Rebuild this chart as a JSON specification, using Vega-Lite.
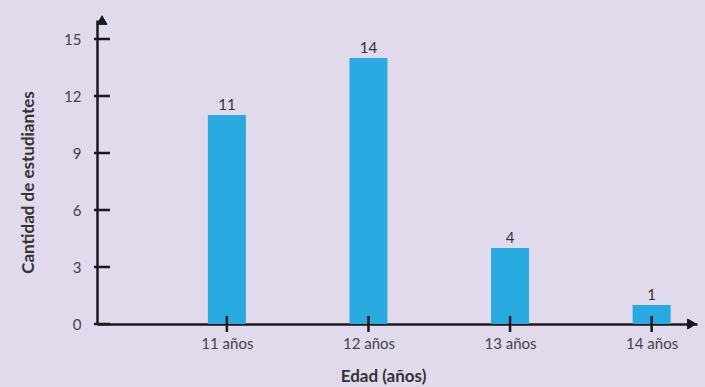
{
  "$schema": "https://vega.github.io/schema/vega-lite/v6.json",
  "width": 600,
  "height": 304,
  "autosize": {"type": "none"},
  "padding": {"left": 97, "top": 20, "right": 8, "bottom": 63},
  "background": "#e1d9ec",
  "config": {
    "view": {"stroke": null},
    "font": "Lato",
    "axis": {"grid": false, "domainColor": "#1a1a1a", "domainWidth": 2.5, "ticks": false, "labelColor": "#444444", "labelFontSize": 15, "labelFont": "Lato", "titleFont": "Lato", "titleFontSize": 17, "titleColor": "#333333", "titleFontWeight": "bold"}
  },
  "data": {"values": [
    {"edad": 11, "cantidad": 11},
    {"edad": 12, "cantidad": 14},
    {"edad": 13, "cantidad": 4},
    {"edad": 14, "cantidad": 1}
  ]},
  "layer": [
    {
      "mark": {"type": "bar", "size": 38, "color": "#29abe2"},
      "encoding": {
        "x": {"field": "edad", "type": "quantitative", "scale": {"domain": [10.118, 14.285], "nice": false, "zero": false},
          "axis": {"title": "Edad (años)", "values": [11, 12, 13, 14], "labelExpr": "datum.value + ' años'", "labelPadding": 12, "titleX": 286, "titleY": 44, "titleAnchor": "middle"}},
        "y": {"field": "cantidad", "type": "quantitative", "scale": {"domain": [0, 16], "nice": false},
          "axis": {"title": "Cantidad de estudiantes", "values": [0, 3, 6, 9, 12, 15], "labelPadding": 16, "titleX": -60, "titleY": 162, "titleAnchor": "middle"}}
      }
    },
    {
      "mark": {"type": "text", "dy": -2, "fontSize": 15, "color": "#333333", "baseline": "bottom"},
      "encoding": {
        "x": {"field": "edad", "type": "quantitative"},
        "y": {"field": "cantidad", "type": "quantitative"},
        "text": {"field": "cantidad", "type": "quantitative"}
      }
    },
    {
      "mark": {"type": "tick", "orient": "vertical", "size": 16, "thickness": 2.5, "color": "#1a1a1a", "opacity": 1},
      "encoding": {
        "x": {"field": "edad", "type": "quantitative"},
        "y": {"datum": 0}
      }
    },
    {
      "data": {"values": [{"v": 0}, {"v": 3}, {"v": 6}, {"v": 9}, {"v": 12}, {"v": 15}]},
      "mark": {"type": "tick", "orient": "horizontal", "size": 16, "thickness": 2.5, "color": "#1a1a1a", "opacity": 1},
      "encoding": {
        "x": {"datum": 10.118},
        "y": {"field": "v", "type": "quantitative"}
      }
    },
    {
      "mark": {"type": "point", "shape": "triangle-up", "filled": true, "size": 110, "color": "#1a1a1a", "opacity": 1},
      "encoding": {"x": {"datum": 10.118}, "y": {"datum": 16}}
    },
    {
      "mark": {"type": "point", "shape": "triangle-right", "filled": true, "size": 110, "color": "#1a1a1a", "opacity": 1},
      "encoding": {"x": {"datum": 14.285}, "y": {"datum": 0}}
    }
  ]
}
